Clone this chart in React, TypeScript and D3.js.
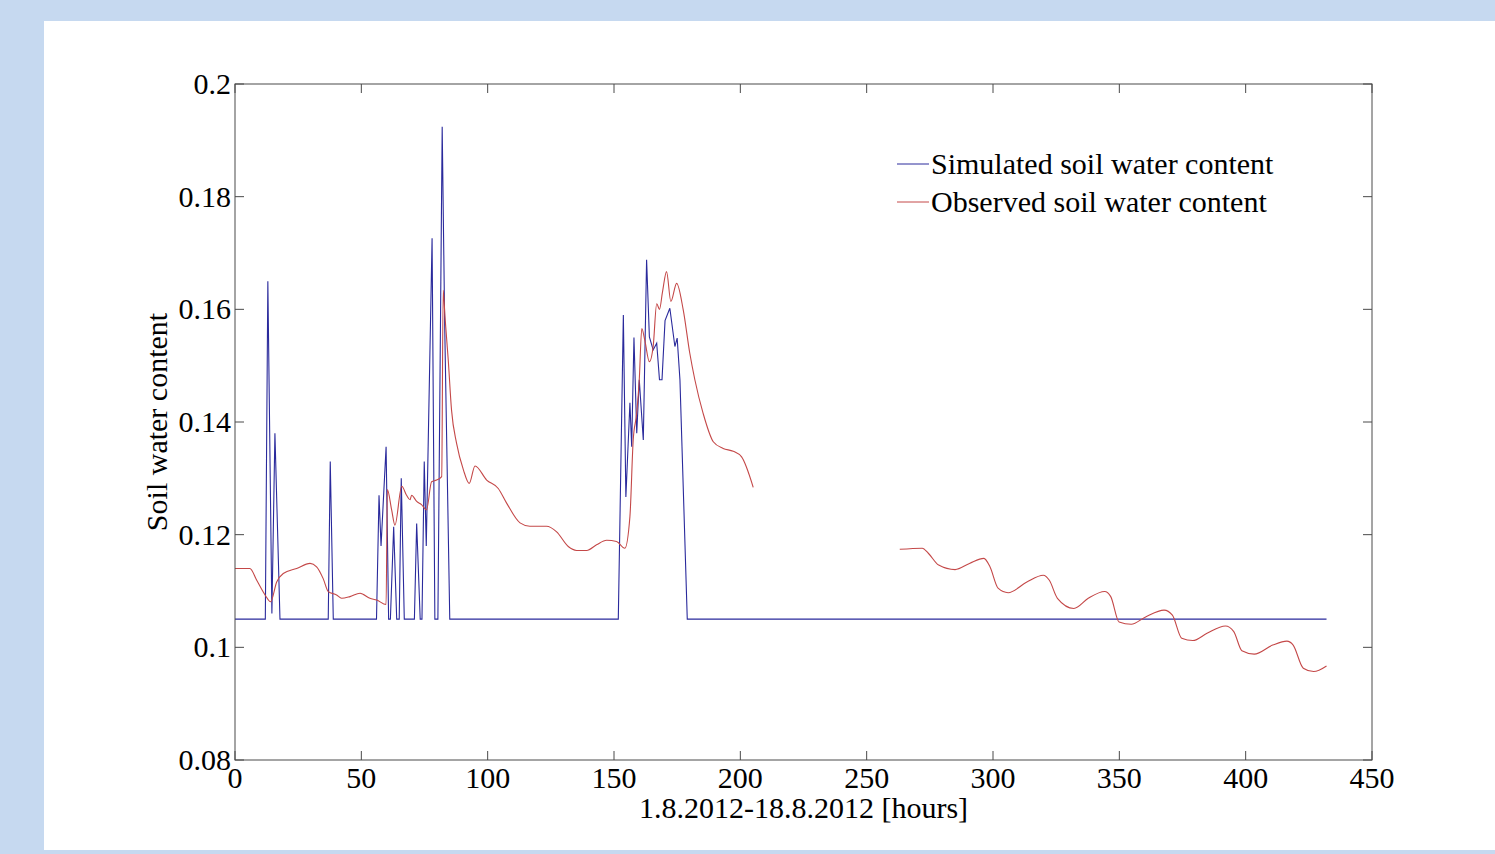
import * as d3 from "d3";

// Simulated soil water content (blue), hours + values
const simHours = [
  0, 12, 13, 14.6, 15.8, 17.8, 36.9, 37.7, 38.9, 56, 57, 57.8, 59.8, 60.8, 61.5,
  62.8, 64, 65, 65.8, 67, 71, 71.9, 73.3, 74, 74.9, 75.7, 78, 79.1, 80.3, 82, 83,
  85, 151.7, 153.7, 154.7, 156.3, 157, 157.9, 159, 160, 161.6, 162.9, 164, 165.5,
  166.9, 168, 169, 170.2, 172.1, 174.1, 175, 176.1, 179, 432,
];
const simValues = [
  0.105, 0.105, 0.165, 0.106, 0.138, 0.105, 0.105, 0.133, 0.105, 0.105, 0.127,
  0.118, 0.1356, 0.105, 0.105, 0.1214, 0.105, 0.105, 0.13, 0.105, 0.105, 0.122,
  0.105, 0.105, 0.133, 0.118, 0.1726, 0.105, 0.105, 0.1924, 0.157, 0.105, 0.105,
  0.159, 0.1267, 0.1434, 0.1356, 0.155, 0.138, 0.1475, 0.1368, 0.1688, 0.1551,
  0.1528, 0.154, 0.1475, 0.1475, 0.158, 0.1602, 0.1534, 0.1549, 0.1475, 0.105,
  0.105,
];

// Observed soil water content (red); null marks the gap in measurements
const obsHours = [
  0, 5.9, 8.6, 11.9, 14.1, 16.5, 19.1, 24.4, 29.7, 32.3, 34.9, 36.9, 40.2, 42.2,
  45.5, 49.5, 53.4, 56.1, 59.8, 60.3, 62, 63.3, 66, 67.9, 69.3, 69.9, 71.9, 73.9,
  75.8, 77.8, 79.8, 81.8, 82.4, 83.1, 84.4, 85.7, 87.7, 90.4, 92.7, 95, 99.6,
  104.2, 107.5, 112.8, 116.7, 123.3, 127.3, 131.9, 135.2, 139.2, 143.1, 147.1,
  151, 154.3, 156.3, 157.6, 159, 160, 161, 162.2, 164, 165.5, 166.9, 168, 169.2,
  170.8, 172.5, 174.8, 177.4, 180, 182, 185.3, 189.3, 193.2, 197.2, 200.5, 205.1,
  230,
  263.1, 272, 274.4, 278.5, 285, 290.7, 296.4, 298.8, 302, 306, 313.4, 319.9,
  322.3, 325.5, 332, 337.7, 344.2, 346.6, 349.9, 354.7, 360.4, 367.7, 371, 374.7,
  379.1, 384.7, 392, 395.3, 398.5, 403.4, 410.7, 416.3, 418.8, 422.8, 426.9, 432,
];
const obsValues = [
  0.114, 0.114, 0.1119, 0.1093, 0.1081, 0.1116, 0.1131, 0.114, 0.1149, 0.1143,
  0.1122, 0.1099, 0.1093, 0.1087, 0.109, 0.1096, 0.1087, 0.1084, 0.1076, 0.128,
  0.1244, 0.1217, 0.1286, 0.127, 0.1262, 0.127, 0.1259, 0.1253, 0.1244, 0.1294,
  0.1297, 0.1303, 0.1634, 0.1587, 0.151, 0.1421, 0.1362, 0.1315, 0.1291, 0.1322,
  0.1297, 0.1282, 0.1256, 0.1221, 0.1215, 0.1215, 0.1205, 0.1179, 0.1172, 0.1172,
  0.1182, 0.119, 0.1188, 0.1176, 0.1232, 0.1368, 0.1416, 0.1475, 0.1566, 0.1545,
  0.1507, 0.1534, 0.161, 0.16, 0.1631, 0.1667, 0.1614, 0.1646, 0.1599, 0.1522,
  0.1475, 0.1415, 0.1365, 0.1353, 0.1348, 0.1338, 0.1284,
  null,
  0.1174, 0.1176, 0.1167, 0.1146, 0.1138, 0.1149, 0.1158, 0.1143, 0.1105, 0.1097,
  0.1116, 0.1128, 0.1119, 0.1087, 0.1069, 0.1087, 0.1099, 0.109, 0.1045, 0.1041,
  0.1054, 0.1066, 0.1057, 0.1016, 0.1012, 0.1025, 0.1038, 0.1028, 0.0994, 0.0988,
  0.1004, 0.1011, 0.1004, 0.0963, 0.0957, 0.0967,
];

const xTicks = [0, 50, 100, 150, 200, 250, 300, 350, 400, 450];
const yTicks = [0.08, 0.1, 0.12, 0.14, 0.16, 0.18, 0.2];
const seriesNames = ["Simulated soil water content", "Observed soil water content"];
const xLabel = "1.8.2012-18.8.2012 [hours]";
const yLabel = "Soil water content";

const W = 1495;
const H = 854;
const left = 235;
const right = 1372;
const top = 84;
const bottom = 760;
const font = "'Liberation Serif', 'Times New Roman', serif";
const blue = "#2a2a9c";
const red = "#c44848";
const axisColor = "#4a4a4a";

export default function App() {
  const x = d3.scaleLinear().domain([0, 450]).range([left, right]);
  const y = d3.scaleLinear().domain([0.08, 0.2]).range([bottom, top]);

  const sim = simHours.map((h, i) => ({ h, v: simValues[i] }));
  const obs = obsHours.map((h, i) => ({ h, v: obsValues[i] }));

  const simLine = d3
    .line<{ h: number; v: number | null }>()
    .defined((d) => d.v !== null)
    .x((d) => x(d.h))
    .y((d) => y(d.v as number));

  // observed record is smooth in the original, so use a monotone curve
  const obsLine = d3
    .line<{ h: number; v: number | null }>()
    .defined((d) => d.v !== null)
    .curve(d3.curveMonotoneX)
    .x((d) => x(d.h))
    .y((d) => y(d.v as number));

  const tickLen = 9;

  return (
    <svg
      width={W}
      height={H}
      style={{ position: "absolute", left: 0, top: 0, display: "block" }}
    >
      <rect x={0} y={0} width={W} height={H} fill="#c6d9f0" />
      <rect x={44} y={21} width={W - 44} height={829} fill="#ffffff" />

      {/* data lines */}
      <path d={simLine(sim) ?? ""} fill="none" stroke={blue} strokeWidth={1.1} />
      <path d={obsLine(obs) ?? ""} fill="none" stroke={red} strokeWidth={1.1} />

      {/* axes box */}
      <rect
        x={left}
        y={top}
        width={right - left}
        height={bottom - top}
        fill="none"
        stroke={axisColor}
        strokeWidth={1}
      />

      {/* x ticks */}
      {xTicks.map((t) => (
        <g key={"x" + t}>
          <line x1={x(t)} x2={x(t)} y1={bottom} y2={bottom - tickLen} stroke={axisColor} />
          <line x1={x(t)} x2={x(t)} y1={top} y2={top + tickLen} stroke={axisColor} />
          <text
            x={x(t)}
            y={788}
            textAnchor="middle"
            fontFamily={font}
            fontSize={30}
            fill="#000"
          >
            {t}
          </text>
        </g>
      ))}

      {/* y ticks */}
      {yTicks.map((t) => (
        <g key={"y" + t}>
          <line x1={left} x2={left + tickLen} y1={y(t)} y2={y(t)} stroke={axisColor} />
          <line x1={right} x2={right - tickLen} y1={y(t)} y2={y(t)} stroke={axisColor} />
          <text
            x={left - 4}
            y={y(t) + 10}
            textAnchor="end"
            fontFamily={font}
            fontSize={30}
            fill="#000"
          >
            {d3.format("~g")(t)}
          </text>
        </g>
      ))}

      {/* axis labels */}
      <text
        x={(left + right) / 2}
        y={818}
        textAnchor="middle"
        fontFamily={font}
        fontSize={30}
        fill="#000"
      >
        {xLabel}
      </text>
      <text
        transform={`translate(167,${(top + bottom) / 2}) rotate(-90)`}
        textAnchor="middle"
        fontFamily={font}
        fontSize={30}
        fill="#000"
      >
        {yLabel}
      </text>

      {/* legend */}
      {seriesNames.map((name, i) => {
        const ly = 164 + i * 38;
        return (
          <g key={name}>
            <line x1={897} x2={929} y1={ly} y2={ly} stroke={i === 0 ? blue : red} strokeWidth={1} />
            <text x={931} y={ly + 10} fontFamily={font} fontSize={30} fill="#000">
              {name}
            </text>
          </g>
        );
      })}
    </svg>
  );
}
